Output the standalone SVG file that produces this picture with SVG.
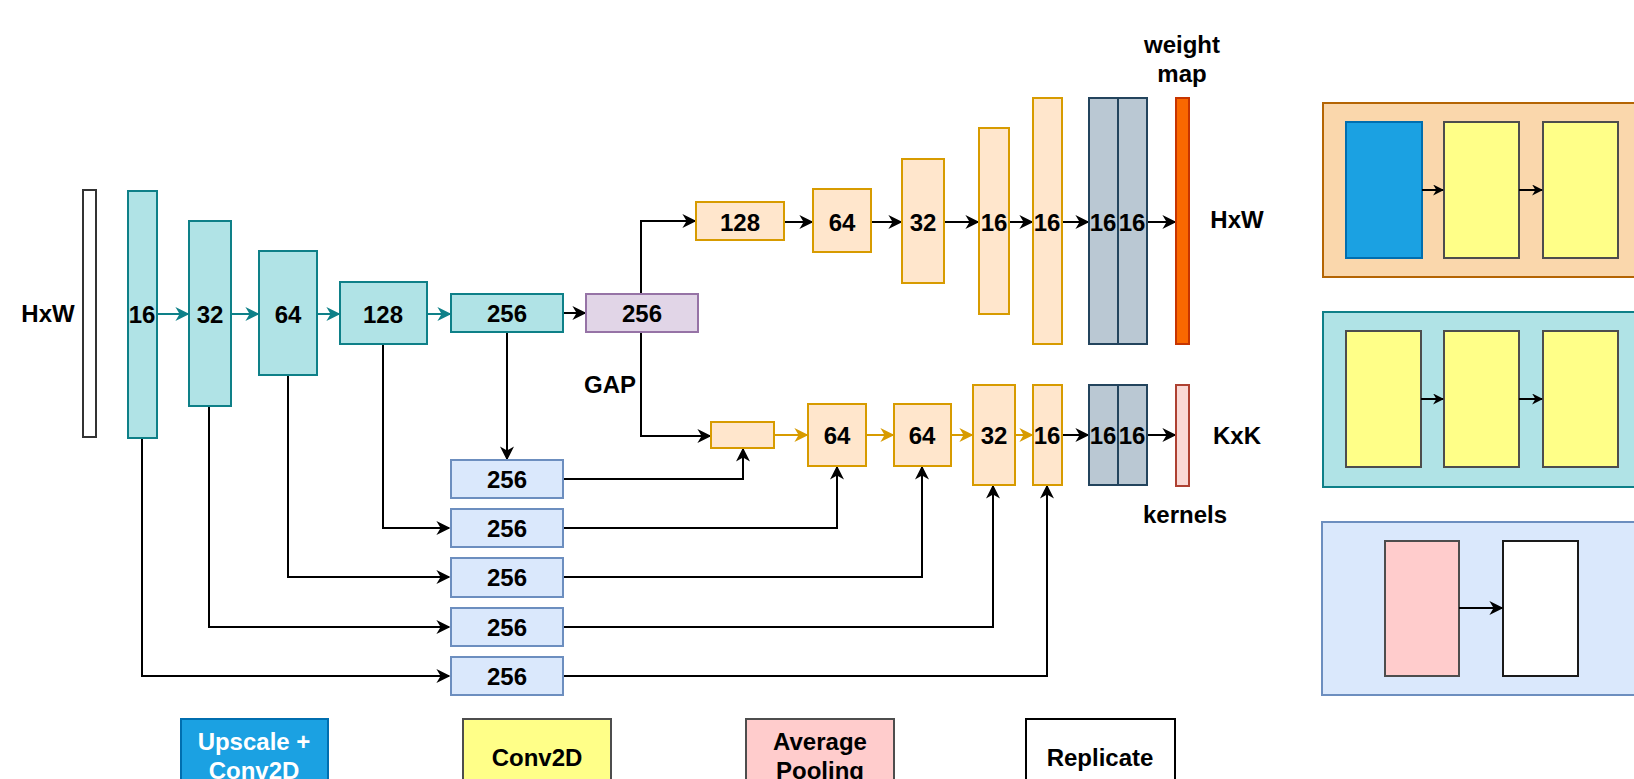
<svg xmlns="http://www.w3.org/2000/svg" width="1634" height="779" viewBox="0 0 1634 779">
<defs>
<style>
text{font-family:"Liberation Sans",Arial,Helvetica,sans-serif;font-weight:bold;font-size:24px;fill:#000}
.lbl{text-anchor:middle;dominant-baseline:central}
.teal{fill:#b0e3e6;stroke:#0e8088;stroke-width:2}
.org{fill:#ffe6cc;stroke:#d79b00;stroke-width:2}
.pur{fill:#e1d5e7;stroke:#9673a6;stroke-width:2}
.blu{fill:#dae8fc;stroke:#6c8ebf;stroke-width:2}
.gry{fill:#bac8d3;stroke:#23445d;stroke-width:2}
.yel{fill:#ffff88;stroke:#4d4d4d;stroke-width:2}
.pnk{fill:#ffcccc;stroke:#4d4d4d;stroke-width:2}
.c{fill:none;stroke:#000;stroke-width:2}
.ct{fill:none;stroke:#0e8088;stroke-width:2}
.cg{fill:none;stroke:#d79b00;stroke-width:2}
</style>
<marker id="a" viewBox="0 0 10 10" refX="9" refY="5" markerWidth="11" markerHeight="11" markerUnits="userSpaceOnUse" orient="auto"><path d="M0,0 L10,5 L0,10 L3,5 z" fill="#000"/></marker>
<marker id="at" viewBox="0 0 10 10" refX="9" refY="5" markerWidth="14" markerHeight="14" markerUnits="userSpaceOnUse" orient="auto"><path d="M0,0 L10,5 L0,10 L3,5 z" fill="#0e8088"/></marker>
<marker id="ag" viewBox="0 0 10 10" refX="9" refY="5" markerWidth="14" markerHeight="14" markerUnits="userSpaceOnUse" orient="auto"><path d="M0,0 L10,5 L0,10 L3,5 z" fill="#d79b00"/></marker>
<marker id="as" viewBox="0 0 10 10" refX="9" refY="5" markerWidth="14" markerHeight="14" markerUnits="userSpaceOnUse" orient="auto"><path d="M0,0 L10,5 L0,10 L3,5 z" fill="#000"/></marker>
</defs>
<rect width="1634" height="779" fill="#fff"/>

<g id="connectors">
<path class="ct" d="M157,314 H188" marker-end="url(#at)"/>
<path class="ct" d="M231,314 H258" marker-end="url(#at)"/>
<path class="ct" d="M317,314 H339" marker-end="url(#at)"/>
<path class="ct" d="M427,314 H450" marker-end="url(#at)"/>
<path class="c" d="M563,313 H585" marker-end="url(#as)"/>
<path class="c" d="M641,294 V221 H695" marker-end="url(#as)"/>
<path class="c" d="M784,222 H812" marker-end="url(#as)"/>
<path class="c" d="M871,222 H901" marker-end="url(#as)"/>
<path class="c" d="M944,222 H978" marker-end="url(#as)"/>
<path class="c" d="M1009,222 H1032" marker-end="url(#as)"/>
<path class="c" d="M1062,222 H1088" marker-end="url(#as)"/>
<path class="c" d="M1147,222 H1175" marker-end="url(#as)"/>
<path class="c" d="M641,332 V436 H710" marker-end="url(#as)"/>
<path class="cg" d="M774,435 H807" marker-end="url(#ag)"/>
<path class="cg" d="M866,435 H893" marker-end="url(#ag)"/>
<path class="cg" d="M951,435 H972" marker-end="url(#ag)"/>
<path class="cg" d="M1015,435 H1032" marker-end="url(#ag)"/>
<path class="c" d="M1062,435 H1088" marker-end="url(#as)"/>
<path class="c" d="M1147,435 H1175" marker-end="url(#as)"/>
<path class="c" d="M507,332 V459" marker-end="url(#as)"/>
<path class="c" d="M383,344 V528 H449" marker-end="url(#as)"/>
<path class="c" d="M288,375 V577 H449" marker-end="url(#as)"/>
<path class="c" d="M209,406 V627 H449" marker-end="url(#as)"/>
<path class="c" d="M142,438 V676 H449" marker-end="url(#as)"/>
<path class="c" d="M563,479 H743 V449" marker-end="url(#as)"/>
<path class="c" d="M563,528 H837 V467" marker-end="url(#as)"/>
<path class="c" d="M563,577 H922 V467" marker-end="url(#as)"/>
<path class="c" d="M563,627 H993 V486" marker-end="url(#as)"/>
<path class="c" d="M563,676 H1047 V486" marker-end="url(#as)"/>
</g>

<g id="input"><rect x="83" y="190" width="13" height="247" fill="#fff" stroke="#333" stroke-width="2"/><text x="48" y="322" text-anchor="middle">HxW</text></g>
<g id="enc16"><rect class="teal" x="128" y="191" width="29" height="247"/><text class="lbl" x="142" y="314">16</text></g>
<g id="enc32"><rect class="teal" x="189" y="221" width="42" height="185"/><text class="lbl" x="210" y="314">32</text></g>
<g id="enc64"><rect class="teal" x="259" y="251" width="58" height="124"/><text class="lbl" x="288" y="314">64</text></g>
<g id="enc128"><rect class="teal" x="340" y="282" width="87" height="62"/><text class="lbl" x="383" y="314">128</text></g>
<g id="enc256"><rect class="teal" x="451" y="294" width="112" height="38"/><text class="lbl" x="507" y="313">256</text></g>
<g id="gap256"><rect class="pur" x="586" y="294" width="112" height="38"/><text class="lbl" x="642" y="313">256</text></g>
<g id="gaplabel"><text x="610" y="393" text-anchor="middle">GAP</text></g>

<g id="top128"><rect class="org" x="696" y="202" width="88" height="38"/><text class="lbl" x="740" y="222">128</text></g>
<g id="top64"><rect class="org" x="813" y="189" width="58" height="63"/><text class="lbl" x="842" y="222">64</text></g>
<g id="top32"><rect class="org" x="902" y="159" width="42" height="124"/><text class="lbl" x="923" y="222">32</text></g>
<g id="top16a"><rect class="org" x="979" y="128" width="30" height="186"/><text class="lbl" x="994" y="222">16</text></g>
<g id="top16b"><rect class="org" x="1033" y="98" width="29" height="246"/><text class="lbl" x="1047" y="222">16</text></g>
<g id="topgray1"><rect class="gry" x="1089" y="98" width="29" height="246"/><text class="lbl" x="1103" y="222">16</text></g>
<g id="topgray2"><rect class="gry" x="1118" y="98" width="29" height="246"/><text class="lbl" x="1132" y="222">16</text></g>
<g id="weightmap"><rect x="1176" y="98" width="13" height="246" fill="#fa6800" stroke="#c73500" stroke-width="2"/><text x="1182" y="53" text-anchor="middle">weight</text><text x="1182" y="82" text-anchor="middle">map</text><text x="1237" y="228" text-anchor="middle">HxW</text></g>

<g id="botsmall"><rect class="org" x="711" y="422" width="63" height="26"/></g>
<g id="bot64a"><rect class="org" x="808" y="404" width="58" height="62"/><text class="lbl" x="837" y="435">64</text></g>
<g id="bot64b"><rect class="org" x="894" y="404" width="57" height="62"/><text class="lbl" x="922" y="435">64</text></g>
<g id="bot32"><rect class="org" x="973" y="385" width="42" height="100"/><text class="lbl" x="994" y="435">32</text></g>
<g id="bot16"><rect class="org" x="1033" y="385" width="29" height="100"/><text class="lbl" x="1047" y="435">16</text></g>
<g id="botgray1"><rect class="gry" x="1089" y="385" width="29" height="100"/><text class="lbl" x="1103" y="435">16</text></g>
<g id="botgray2"><rect class="gry" x="1118" y="385" width="29" height="100"/><text class="lbl" x="1132" y="435">16</text></g>
<g id="kernels"><rect x="1176" y="385" width="13" height="101" fill="#fad9d5" stroke="#ae4132" stroke-width="2"/><text x="1237" y="444" text-anchor="middle">KxK</text><text x="1185" y="523" text-anchor="middle">kernels</text></g>

<g id="skip1"><rect class="blu" x="451" y="460" width="112" height="38"/><text class="lbl" x="507" y="479">256</text></g>
<g id="skip2"><rect class="blu" x="451" y="509" width="112" height="38"/><text class="lbl" x="507" y="528">256</text></g>
<g id="skip3"><rect class="blu" x="451" y="558" width="112" height="39"/><text class="lbl" x="507" y="577">256</text></g>
<g id="skip4"><rect class="blu" x="451" y="608" width="112" height="38"/><text class="lbl" x="507" y="627">256</text></g>
<g id="skip5"><rect class="blu" x="451" y="657" width="112" height="38"/><text class="lbl" x="507" y="676">256</text></g>

<g id="panel-upconv">
<rect x="1323" y="103" width="330" height="174" fill="#fad7ac" stroke="#b46504" stroke-width="2"/>
<rect x="1346" y="122" width="76" height="136" fill="#1ba1e2" stroke="#006eaf" stroke-width="2"/>
<rect class="yel" x="1444" y="122" width="75" height="136"/>
<rect class="yel" x="1543" y="122" width="75" height="136"/>
<path class="c" d="M1422,190 H1443" marker-end="url(#a)"/>
<path class="c" d="M1519,190 H1542" marker-end="url(#a)"/>
</g>
<g id="panel-conv">
<rect x="1323" y="312" width="330" height="175" fill="#b0e3e6" stroke="#0e8088" stroke-width="2"/>
<rect class="yel" x="1346" y="331" width="75" height="136"/>
<rect class="yel" x="1444" y="331" width="75" height="136"/>
<rect class="yel" x="1543" y="331" width="75" height="136"/>
<path class="c" d="M1421,399 H1443" marker-end="url(#a)"/>
<path class="c" d="M1519,399 H1542" marker-end="url(#a)"/>
</g>
<g id="panel-pool">
<rect x="1322" y="522" width="330" height="173" fill="#dae8fc" stroke="#6c8ebf" stroke-width="2"/>
<rect class="pnk" x="1385" y="541" width="74" height="135"/>
<rect x="1503" y="541" width="75" height="135" fill="#fff" stroke="#1a1a1a" stroke-width="2"/>
<path class="c" d="M1459,608 H1502" marker-end="url(#as)"/>
</g>

<g id="legend-upscale"><rect x="181" y="719" width="147" height="80" fill="#1ba1e2" stroke="#006eaf" stroke-width="2"/><text x="254" y="750" text-anchor="middle" style="fill:#fff">Upscale +</text><text x="254" y="779" text-anchor="middle" style="fill:#fff">Conv2D</text></g>
<g id="legend-conv"><rect class="yel" x="463" y="719" width="148" height="80"/><text x="537" y="766" text-anchor="middle">Conv2D</text></g>
<g id="legend-pool"><rect class="pnk" x="746" y="719" width="148" height="80"/><text x="820" y="750" text-anchor="middle">Average</text><text x="820" y="779" text-anchor="middle">Pooling</text></g>
<g id="legend-rep"><rect x="1026" y="719" width="149" height="80" fill="#fff" stroke="#000" stroke-width="2"/><text x="1100" y="766" text-anchor="middle">Replicate</text></g>
</svg>
